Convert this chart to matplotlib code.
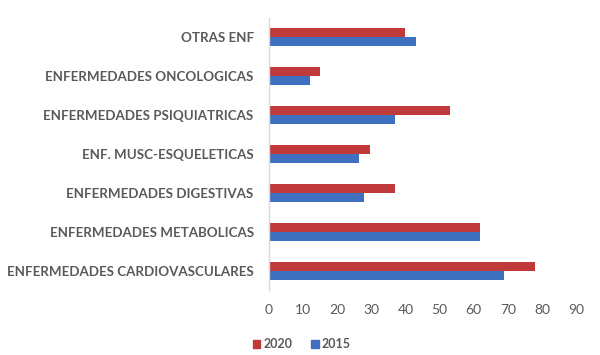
import matplotlib
matplotlib.use("Agg")
import matplotlib.pyplot as plt
import numpy as np
from matplotlib.patches import Patch

categories = ["ENFERMEDADES CARDIOVASCULARES", "ENFERMEDADES METABOLICAS",
              "ENFERMEDADES DIGESTIVAS", "ENF. MUSC-ESQUELETICAS",
              "ENFERMEDADES PSIQUIATRICAS", "ENFERMEDADES ONCOLOGICAS",
              "OTRAS ENF"]
values_2020 = [78, 62, 37, 29.5, 53, 15, 40]
values_2015 = [69, 62, 28, 26.5, 37, 12, 43]
xticks = [0, 10, 20, 30, 40, 50, 60, 70, 80, 90]

red = "#C0393B"
blue = "#3F6FBF"
gray = "#595959"

plt.rcParams['font.family'] = ['Lato', 'DejaVu Sans']

fig = plt.figure(figsize=(6, 3.55), dpi=100)
ax = fig.add_axes([0.4483, 0.1817, 0.96 - 0.4483, 0.769])

y = np.arange(len(categories))
h = 0.23
ax.barh(y + h / 2, values_2020, height=h, color=red, label="2020")
ax.barh(y - h / 2, values_2015, height=h, color=blue, label="2015")

ax.set_xlim(0, 90)
ax.set_ylim(-0.5, len(categories) - 0.5)
ax.set_xticks(xticks)
ax.set_xticklabels([str(t) for t in xticks], fontsize=10, color=gray)
ax.set_yticks(y)
ax.set_yticklabels(categories, fontsize=9.6, fontweight='bold', color=gray)
ax.tick_params(axis='both', length=0)
ax.tick_params(axis='x', pad=10)
ax.tick_params(axis='y', pad=11)

for s in ['top', 'right', 'bottom']:
    ax.spines[s].set_visible(False)
ax.spines['left'].set_color('#D9D9D9')
ax.spines['left'].set_linewidth(1)

handles = [Patch(color=red, label="2020"), Patch(color=blue, label="2015")]
leg = fig.legend(handles=handles, loc='center', bbox_to_anchor=(0.503, 0.031),
                 ncol=2, frameon=False, handlelength=0.6, handleheight=0.6,
                 handletextpad=0.25, columnspacing=1.5,
                 prop={'size': 9, 'weight': 'bold'})
for t in leg.get_texts():
    t.set_color(gray)

fig.savefig("out.png", dpi=100)
